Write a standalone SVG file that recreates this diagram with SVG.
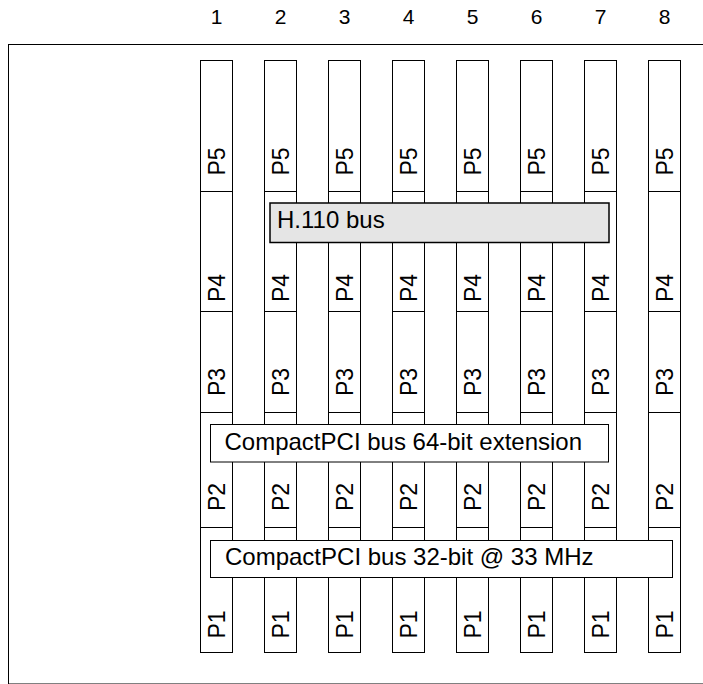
<svg xmlns="http://www.w3.org/2000/svg" width="703" height="684" viewBox="0 0 703 684">
<style>
text{font-family:"Liberation Sans",Arial,sans-serif;fill:#000}
.num{font-size:21px;text-anchor:middle}
.conn{fill:#fff;stroke:#000;stroke-width:1}
.lbl{font-size:23px}
.bus{fill:#fff;stroke:#000;stroke-width:1}
.h110{fill:#e5e5e5;stroke:#000;stroke-width:1.5}
.btxt{font-size:24px}
.frame{fill:none;stroke:#000;stroke-width:1}
</style>
<defs>
<g id="slot">
<rect class="conn" x="0" y="60.5" width="32" height="131"/>
<rect class="conn" x="0" y="191.5" width="32" height="120"/>
<rect class="conn" x="0" y="311.5" width="32" height="101"/>
<rect class="conn" x="0" y="412.5" width="32" height="115"/>
<rect class="conn" x="0" y="527.5" width="32" height="125"/>
<text class="lbl" transform="translate(24.5,175.5) rotate(-90)">P5</text>
<text class="lbl" transform="translate(24.5,302) rotate(-90)">P4</text>
<text class="lbl" transform="translate(24.5,396) rotate(-90)">P3</text>
<text class="lbl" transform="translate(24.5,511) rotate(-90)">P2</text>
<text class="lbl" transform="translate(24.5,638.5) rotate(-90)">P1</text>
</g>
</defs>
<rect id="frame" class="frame" x="8.5" y="44.5" width="720" height="639.5"/>
<g id="slot1"><text class="num" x="216.5" y="24">1</text><use href="#slot" x="200.5"/></g>
<g id="slot2"><text class="num" x="280.5" y="24">2</text><use href="#slot" x="264.5"/></g>
<g id="slot3"><text class="num" x="344.5" y="24">3</text><use href="#slot" x="328.5"/></g>
<g id="slot4"><text class="num" x="408.5" y="24">4</text><use href="#slot" x="392.5"/></g>
<g id="slot5"><text class="num" x="472.5" y="24">5</text><use href="#slot" x="456.5"/></g>
<g id="slot6"><text class="num" x="536.5" y="24">6</text><use href="#slot" x="520.5"/></g>
<g id="slot7"><text class="num" x="600.5" y="24">7</text><use href="#slot" x="584.5"/></g>
<g id="slot8"><text class="num" x="664.5" y="24">8</text><use href="#slot" x="648.5"/></g>
<g id="h110-bus"><rect class="h110" x="270" y="203" width="339" height="39.5"/><text class="btxt" x="277" y="228">H.110 bus</text></g>
<g id="cpci-64"><rect class="bus" x="210.5" y="424.5" width="398" height="37.5"/><text class="btxt" x="224.5" y="449.5">CompactPCI bus 64-bit extension</text></g>
<g id="cpci-32"><rect class="bus" x="210.5" y="540.5" width="462" height="37"/><text class="btxt" x="225" y="565">CompactPCI bus 32-bit @ 33 MHz</text></g>
</svg>
